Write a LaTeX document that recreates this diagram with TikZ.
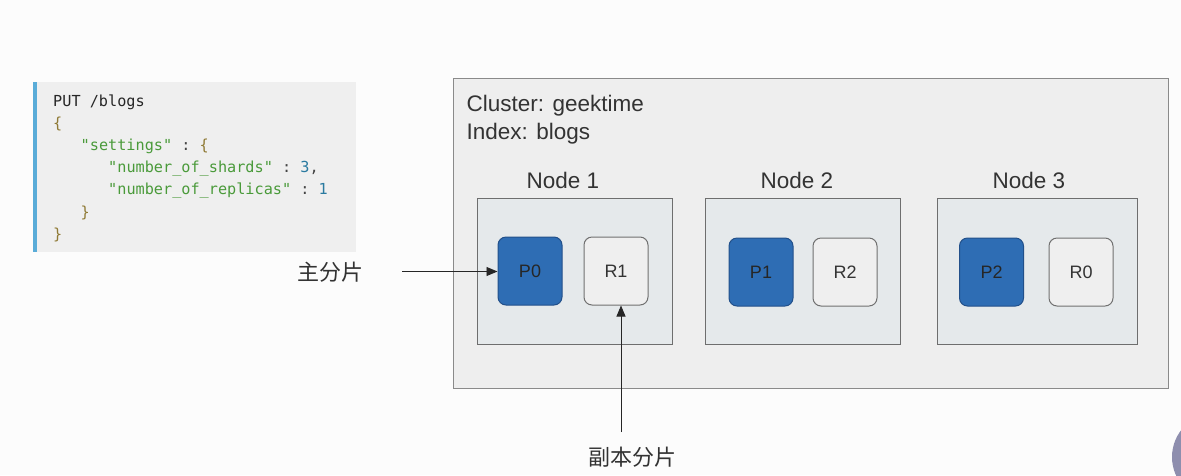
\documentclass[tikz,border=0pt]{standalone}
\usepackage{fontspec}
\setmainfont{Liberation Sans}
\newfontfamily\cjkf{Noto Sans CJK SC}
\newfontfamily\codef{DejaVu Sans Mono}
\usetikzlibrary{arrows.meta}
\definecolor{bgc}{HTML}{FCFCFC}
\definecolor{codebg}{HTML}{EFEFEF}
\definecolor{codebar}{HTML}{5AACD8}
\definecolor{clfill}{HTML}{EEEEEE}
\definecolor{clline}{HTML}{8A8A8A}
\definecolor{ndfill}{HTML}{E5E9EB}
\definecolor{ndline}{HTML}{6E6E6E}
\definecolor{pfill}{HTML}{2E6DB4}
\definecolor{pline}{HTML}{22508A}
\definecolor{rfill}{HTML}{EFEFEF}
\definecolor{rline}{HTML}{707070}
\definecolor{txt}{HTML}{333333}
\definecolor{cbrace}{HTML}{8F7A35}
\definecolor{cstr}{HTML}{4A9A3A}
\definecolor{cnum}{HTML}{2A7AA0}
\definecolor{ccol}{HTML}{444444}
\definecolor{blob}{HTML}{8E8EAE}
\begin{document}
\begin{tikzpicture}[x=1pt,y=-1pt,
  codeline/.style={anchor=base west,inner sep=0pt,font=\codef\fontsize{15.2}{17}\selectfont},
  nodebox/.style={draw=ndline,fill=ndfill,line width=1pt,minimum width=195pt,minimum height=146pt,inner sep=0pt},
  nodelabel/.style={anchor=base,inner sep=0pt,text=txt,font=\fontsize{22.5}{26}\selectfont},
  pshard/.style={draw=pline,fill=pfill,line width=1pt,rounded corners=8pt,minimum width=64pt,minimum height=68pt,inner sep=0pt,text=black!85,font=\fontsize{18}{20}\selectfont},
  rshard/.style={draw=rline,fill=rfill,line width=1pt,rounded corners=8pt,minimum width=64pt,minimum height=68pt,inner sep=0pt,text=txt,font=\fontsize{18}{20}\selectfont},
  cjklabel/.style={inner sep=0pt,text=txt,font=\cjkf\fontsize{22}{24}\selectfont},
  pointer/.style={draw=black!85,line width=0.9pt,-{Triangle[length=11pt,width=9pt]}}
]
\useasboundingbox (0,0) rectangle (1181,475);
\fill[bgc] (0,0) rectangle (1181,475);
% partial circle at the bottom right
\begin{scope}
\clip (0,0) rectangle (1181,475);
\fill[blob] (1216,457) circle (44);
\end{scope}
% code box
\fill[codebg] (33,82) rectangle (356,252);
\fill[codebar] (33,82) rectangle (36.5,252);
\node[codeline] (c1) at (53,106) {\textcolor{black!85}{PUT\ /blogs}};
\node[codeline] (c2) at (53,128.2) {\textcolor{cbrace}{\{}};
\node[codeline] (c3) at (80.5,150.4) {\textcolor{cstr}{"settings"}\ \textcolor{ccol}{:}\ \textcolor{cbrace}{\{}};
\node[codeline] (c4) at (108,172.6) {\textcolor{cstr}{"number\_of\_shards"}\ \textcolor{ccol}{:}\ \textcolor{cnum}{3}\textcolor{ccol}{,}};
\node[codeline] (c5) at (108,194.8) {\textcolor{cstr}{"number\_of\_replicas"}\ \textcolor{ccol}{:}\ \textcolor{cnum}{1}};
\node[codeline] (c6) at (80.5,217) {\textcolor{cbrace}{\}}};
\node[codeline] (c7) at (53,239.2) {\textcolor{cbrace}{\}}};
% cluster
\node[draw=clline,fill=clfill,line width=1pt,minimum width=715pt,minimum height=310pt,inner sep=0pt] (cluster) at (810.5,233) {};
\node[anchor=base west,inner sep=0pt,text=txt,font=\fontsize{22.5}{26}\selectfont] (clname) at (466.5,111.5) {Cluster: geektime};
\node[anchor=base west,inner sep=0pt,text=txt,font=\fontsize{22.5}{26}\selectfont] (ixname) at (466.5,139.5) {Index: blogs};
% nodes
\node[nodebox] (n1) at (574.5,271) {};
\node[nodebox] (n2) at (803,271) {};
\node[nodebox, minimum width=200pt] (n3) at (1037,271) {};
\node[nodelabel] (l1) at (563,188) {Node 1};
\node[nodelabel] (l2) at (797,188) {Node 2};
\node[nodelabel] (l3) at (1029,188) {Node 3};
% shards
\node[pshard] (p0) at (530,271) {P0};
\node[rshard] (r1) at (616,271) {R1};
\node[pshard] (p1) at (761,272) {P1};
\node[rshard] (r2) at (845,272) {R2};
\node[pshard] (p2) at (991.5,272) {P2};
\node[rshard] (r0) at (1081,272) {R0};
% pointers
\node[cjklabel] (lp) at (330,272.5) {主分片};
\node[cjklabel] (lr) at (632,457) {副本分片};
\coordinate (ps) at (402,271.5);
\coordinate (rs) at (621,432);
\draw[pointer] (ps) -- (p0.west |- ps);
\draw[pointer] (rs) -- (rs |- r1.south);
\end{tikzpicture}
\end{document}
